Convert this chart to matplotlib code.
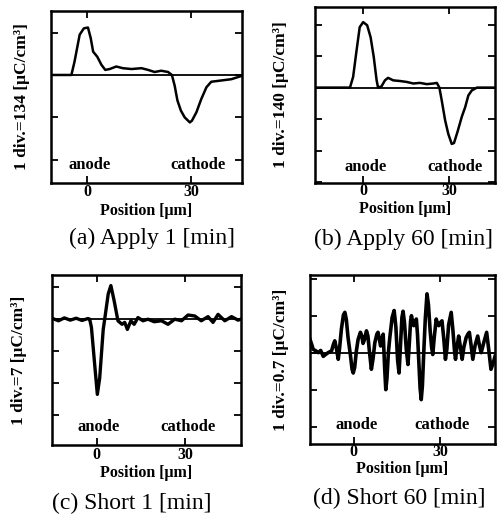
import numpy as np
import matplotlib
matplotlib.use('Agg')
import matplotlib.pyplot as plt

plt.rcParams['font.family'] = ['Liberation Serif', 'DejaVu Serif']

W, H = 498, 521

# ---------------------------------------------------------------------------
# Charge density profiles (units: divisions)
pos_a = [-10.5, -4.6, -3.7, -2.2, -1.0, 0.2, 1.0, 1.7, 2.9, 4.1, 5.2, 6.5, 8.4,
         10.3, 12.8, 15.7, 17.6, 19.5, 21.4, 23.4, 24.5, 25.3, 26.1, 27.1, 28.2,
         29.7, 30.3, 31.6, 33.0, 34.5, 35.9, 38.8, 41.7, 44.8]
rho_a = [0.0, 0.0, 0.31, 0.95, 1.10, 1.12, 0.87, 0.55, 0.43, 0.24, 0.12, 0.14, 0.20,
         0.16, 0.14, 0.16, 0.12, 0.07, 0.10, 0.07, 0.0, -0.25, -0.60, -0.84, -1.00,
         -1.12, -1.08, -0.88, -0.57, -0.29, -0.16, -0.13, -0.10, -0.02]

pos_b = [-16.8, -4.6, -3.5, -2.3, -1.2, 0.0, 1.4, 2.6, 3.7, 4.7, 5.2, 6.4, 7.6,
         8.7, 10.5, 12.8, 15.2, 17.5, 19.8, 22.2, 24.5, 25.7, 26.6, 27.4, 28.6,
         29.7, 30.9, 31.7, 32.9, 34.4, 35.6, 36.7, 37.9, 39.7, 46.0]
rho_b = [0.0, 0.0, 0.34, 1.18, 1.92, 2.08, 1.98, 1.60, 0.97, 0.23, 0.0, 0.04, 0.23,
         0.31, 0.23, 0.21, 0.18, 0.13, 0.15, 0.11, 0.13, 0.15, 0.0, -0.40, -1.04,
         -1.47, -1.79, -1.76, -1.41, -0.93, -0.62, -0.25, -0.09, 0.0, 0.0]

pos_c = [-15.2, -13.0, -11.0, -9.0, -7.0, -5.0, -3.0, -2.4, -1.8, -0.7, 0.2, 1.0,
         2.2, 2.7, 3.9, 4.8, 5.9, 7.2, 8.6, 9.5, 10.4, 11.6, 12.7, 14.0, 15.7,
         17.4, 19.5, 22.0, 24.2, 26.5, 28.8, 31.0, 33.3, 35.5, 37.8, 39.5, 41.2,
         43.5, 45.8, 48.0, 49.0]
rho_c = [0.03, -0.05, 0.04, -0.03, 0.03, -0.04, 0.02, 0.0, -0.26, -1.42, -2.35, -1.84,
         -0.32, 0.0, 0.79, 1.05, 0.58, -0.05, -0.16, -0.10, -0.32, -0.05, -0.16, 0.05, -0.05,
         0.0, -0.08, -0.05, -0.16, 0.0, -0.05, 0.13, 0.10, -0.05, 0.08, -0.10, 0.15,
         -0.05, 0.08, -0.03, 0.0]

pos_d = [-15.2, -14.6, -14.1, -13.2, -12.3, -11.5, -10.6, -9.8, -8.9, -7.7, -7.1,
         -6.6, -6.0, -5.4, -4.9, -4.3, -3.6, -3.1, -2.6, -2.0, -1.2, -0.6, -0.2,
         0.3, 0.9, 1.5, 2.3, 2.8, 3.2, 3.7, 4.4, 4.9, 5.4, 6.1, 6.7, 7.3, 8.0,
         8.4, 8.9, 9.3, 9.8, 10.2, 10.7, 11.1, 11.5, 12.0, 12.5, 13.3, 14.0, 14.6,
         15.2, 15.7, 16.2, 16.7, 17.1, 17.6, 18.2, 18.8, 19.3, 19.7, 20.0, 20.4,
         20.8, 21.3, 21.7, 22.1, 22.6, 23.0, 23.4, 23.8, 24.3, 24.8, 25.4, 25.9,
         26.5, 27.0, 27.4, 27.9, 28.6, 29.0, 29.5, 30.1, 30.6, 31.2, 31.8, 32.3,
         32.9, 33.8, 34.4, 35.0, 35.3, 35.8, 36.4, 37.0, 37.6, 38.2, 39.0, 39.6,
         40.1, 40.7, 41.3, 42.1, 43.0, 43.6, 44.2, 45.2, 46.1, 46.8, 47.6, 48.3, 49.0]
rho_d = [0.36, 0.22, 0.09, 0.05, 0.0, 0.06, -0.10, -0.05, 0.0, 0.05, 0.22,
         0.32, 0.10, -0.18, 0.15, 0.64, 1.02, 1.09, 0.90, 0.41, -0.05, -0.45, -0.55,
         -0.40, 0.05, 0.36, 0.55, 0.45, 0.25, 0.35, 0.59, 0.45, 0.05, -0.45, -0.15, 0.27, 0.50,
         0.55, 0.35, 0.18, 0.40, 0.50, -0.40, -1.00, -0.70, 0.0, 0.41, 0.95, 1.14, 0.70,
         -0.20, -0.55, 0.20, 0.95, 1.12, 0.80, 0.10, -0.32, 0.30, 0.85, 1.00, 0.85,
         0.73, 0.85, 0.91, 0.50, -0.30, -0.95, -1.27, -0.90, 0.05, 0.90, 1.59, 1.30,
         0.59, 0.15, -0.05, 0.40, 0.91, 0.80, 0.73, 0.82, 0.86, 0.40, -0.18, 0.10,
         0.75, 1.09, 0.60, 0.0, -0.18, 0.15, 0.45, 0.15, -0.18, 0.15, 0.41, 0.50,
         0.55, 0.20, -0.18, 0.20, 0.45, 0.20, 0.0, 0.30, 0.55, 0.10, -0.45, -0.30, -0.10]

div_value = ['134', '140', '7', '0.7']
captions = ['(a) Apply 1 [min]', '(b) Apply 60 [min]',
            '(c) Short 1 [min]', '(d) Short 60 [min]']
x_ticks = [0, 30]


# ---------------------------------------------------------------------------
def rect(l, t, r, b):
    return [l / W, 1 - b / H, (r - l) / W, (b - t) / H]


panels = [
    # pixel box, limits, line width, text rows (pixels / data units)
    dict(x=pos_a, y=rho_a, box=(51, 11, 242, 183), xlim=(-10.5, 44.8), ylim=(-2.55, 1.51),
         lw=1.8, ty=-2.13, tx=(0.8, 32.2), yl=22, cx=152, cap=238, xl=211, tl=192),
    dict(x=pos_b, y=rho_b, box=(315, 7, 495, 183), xlim=(-16.8, 46.0), ylim=(-3.03, 2.56),
         lw=1.8, ty=-2.53, tx=(1.0, 32.2), yl=281, cx=403, cap=239, xl=209, tl=191),
    dict(x=pos_c, y=rho_c, box=(52, 275, 241, 445), xlim=(-15.2, 49.0), ylim=(-3.93, 1.38),
         lw=2.4, ty=-3.37, tx=(0.6, 31.0), yl=19, cx=132, cap=503, xl=473, tl=455),
    dict(x=pos_d, y=rho_d, box=(310, 275, 495, 444), xlim=(-15.2, 49.0), ylim=(-2.47, 2.10),
         lw=2.6, ty=-1.96, tx=(1.0, 30.7), yl=281, cx=399, cap=498, xl=469, tl=452),
]

fig = plt.figure(figsize=(W / 100, H / 100), dpi=100)

for p, dv, cap in zip(panels, div_value, captions):
    l, t, r, b = p['box']
    ax = fig.add_axes(rect(l, t, r, b))
    ax.axhline(0, color='black', lw=1.3)
    ax.plot(p['x'], p['y'], color='black', lw=p['lw'], solid_joinstyle='round')
    ax.set_xlim(*p['xlim'])
    ax.set_ylim(*p['ylim'])
    ax.set_xticks(x_ticks)
    ax.set_xticklabels([])
    ax.set_yticks(np.arange(np.ceil(p['ylim'][0]), p['ylim'][1], 1.0))
    ax.set_yticklabels([])
    ax.tick_params(direction='in', length=5, width=1.3, top=True, right=True)
    for s in ax.spines.values():
        s.set_linewidth(1.8)

    ax.text(p['tx'][0], p['ty'], 'anode', ha='center', va='center',
            fontsize=12, fontweight='bold')
    ax.text(p['tx'][1], p['ty'], 'cathode', ha='center', va='center',
            fontsize=12, fontweight='bold')

    # tick labels placed under the frame
    for xt in x_ticks:
        xf = (l + (xt - p['xlim'][0]) / (p['xlim'][1] - p['xlim'][0]) * (r - l)) / W
        fig.text(xf, 1 - p['tl'] / H, str(xt), ha='center', va='center',
                 fontsize=11.5, fontweight='bold')

    fig.text((l + r) / 2 / W, 1 - p['xl'] / H, 'Position [\u03bcm]', ha='center',
             va='center', fontsize=11.5, fontweight='bold')
    fig.text(p['yl'] / W, 1 - (t + b) / 2 / H, f'1 div.={dv} [\u03bcC/cm\u00b3]',
             rotation=90, ha='center', va='center', fontsize=12.5, fontweight='bold')
    fig.text(p['cx'] / W, 1 - p['cap'] / H, cap, ha='center', va='center',
             fontsize=17)

fig.savefig('out.png', dpi=100)
